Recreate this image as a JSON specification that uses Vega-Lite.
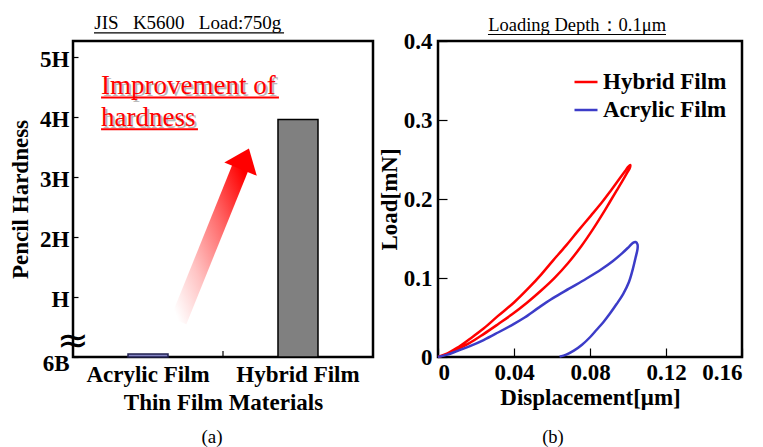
{
  "$schema": "https://vega.github.io/schema/vega-lite/v6.json",
  "background": "white",
  "padding": {"left": 8, "top": 13, "right": 4, "bottom": 0},
  "spacing": 2,
  "resolve": {"scale": {"color": "independent"}, "legend": {"color": "independent"}},
  "config": {
    "view": {"stroke": "black", "strokeWidth": 2.5},
    "font": "Liberation Serif",
    "axis": {"labelFont": "Liberation Serif", "titleFont": "Liberation Serif", "labelColor": "black", "titleColor": "black", "tickColor": "black", "grid": false, "domain": false}
  },
  "hconcat": [
    {
      "width": 300,
      "height": 316,
      "layer": [
        {
          "data": {"values": [
            {"material": "Acrylic Film", "hardness": 0.05},
            {"material": "Hybrid Film", "hardness": 3.96}
          ]},
          "mark": {"type": "bar", "strokeWidth": 1.5},
          "encoding": {
            "x": {"field": "material", "type": "nominal", "sort": null,
              "scale": {"paddingInner": 0.7333, "paddingOuter": 0.3667},
              "axis": {"title": "Thin Film Materials", "labelAngle": 0, "labelFontSize": 23, "labelFontWeight": "bold", "titleFontSize": 23, "titleFontWeight": "bold", "ticks": false, "labelPadding": 6, "titlePadding": 5}},
            "y": {"field": "hardness", "type": "quantitative",
              "scale": {"domain": [0, 5.27], "nice": false},
              "axis": {"values": [0, 1, 2, 3, 4, 5],
                "labelExpr": "datum.value == 0 ? '6B' : datum.value == 1 ? 'H' : datum.value + 'H'",
                "title": "Pencil Hardness", "titleFontSize": 23, "titleFontWeight": "bold",
                "labelFontSize": 23, "labelFontWeight": "bold",
                "tickSize": -5, "tickWidth": 1.2, "labelPadding": 9, "titlePadding": 7,
                "labelOffset": {"condition": {"test": "datum.value == 0", "value": 6}, "value": 2}}},
            "color": {"field": "material", "type": "nominal", "scale": {"domain": ["Acrylic Film", "Hybrid Film"], "range": ["#8484c4", "#808080"]}, "legend": null},
            "stroke": {"field": "material", "type": "nominal", "scale": {"domain": ["Acrylic Film", "Hybrid Film"], "range": ["#202050", "#000000"]}, "legend": null}
          }
        },
        {
          "layer": [
            {
              "data": {"values": [{"ax": 0.703, "ay": 0.6}, {"ax": 1.12, "ay": 3.185}]},
              "mark": {"type": "line", "strokeWidth": 17, "strokeCap": "butt",
                "stroke": {"gradient": "linear", "x1": 0, "y1": 1, "x2": 1, "y2": 0,
                  "stops": [{"offset": 0, "color": "#ffffff"}, {"offset": 0.3, "color": "#ffc4c4"}, {"offset": 0.65, "color": "#ff6a6a"}, {"offset": 1, "color": "#ff0000"}]}},
              "encoding": {
                "x": {"field": "ax", "type": "quantitative", "scale": {"domain": [0, 2]}, "axis": null},
                "y": {"field": "ay", "type": "quantitative", "scale": {"domain": [0, 5.27], "nice": false}}
              }
            },
            {
              "data": {"values": [{"ax": 1.145, "ay": 3.306}]},
              "mark": {"type": "point", "shape": "M-1,0.64L0,-0.64L1,0.64Z", "size": 1225, "angle": 22, "filled": true, "color": "#ff0000", "opacity": 1},
              "encoding": {
                "x": {"field": "ax", "type": "quantitative", "scale": {"domain": [0, 2]}, "axis": null},
                "y": {"field": "ay", "type": "quantitative", "scale": {"domain": [0, 5.27], "nice": false}}
              }
            },
            {
              "data": {"values": [{"t": "Improvement of", "ax": 0.187, "ay": 4.386}, {"t": "hardness", "ax": 0.187, "ay": 3.853}]},
              "mark": {"type": "text", "align": "left", "baseline": "alphabetic", "fontSize": 27, "font": "Liberation Serif", "color": "#a8a8a8", "dx": 2, "dy": 2, "opacity": 0.8},
              "encoding": {
                "x": {"field": "ax", "type": "quantitative", "scale": {"domain": [0, 2]}, "axis": null},
                "y": {"field": "ay", "type": "quantitative", "scale": {"domain": [0, 5.27], "nice": false}},
                "text": {"field": "t"}
              }
            },
            {
              "data": {"values": [{"t": "Improvement of", "ax": 0.187, "ay": 4.386}, {"t": "hardness", "ax": 0.187, "ay": 3.853}]},
              "mark": {"type": "text", "align": "left", "baseline": "alphabetic", "fontSize": 27, "font": "Liberation Serif", "color": "#ff0000"},
              "encoding": {
                "x": {"field": "ax", "type": "quantitative", "scale": {"domain": [0, 2]}, "axis": null},
                "y": {"field": "ay", "type": "quantitative", "scale": {"domain": [0, 5.27], "nice": false}},
                "text": {"field": "t"}
              }
            },
            {
              "data": {"values": [{"ax": 0.187, "ax2": 1.373, "ay": 4.328}, {"ax": 0.187, "ax2": 0.833, "ay": 3.8}]},
              "mark": {"type": "rule", "strokeWidth": 2, "color": "#ff0000"},
              "encoding": {
                "x": {"field": "ax", "type": "quantitative", "scale": {"domain": [0, 2]}, "axis": null},
                "x2": {"field": "ax2"},
                "y": {"field": "ay", "type": "quantitative", "scale": {"domain": [0, 5.27], "nice": false}}
              }
            },
            {
              "data": {"values": [{"t": "JIS\u00a0\u00a0\u00a0K5600\u00a0\u00a0\u00a0Load:750g", "ax": 0.765, "ay": 5.462}, {"t": "(a)", "ax": 0.927, "ay": -1.434}]},
              "mark": {"type": "text", "align": "center", "baseline": "alphabetic", "fontSize": 19, "font": "Liberation Serif", "color": "black"},
              "encoding": {
                "x": {"field": "ax", "type": "quantitative", "scale": {"domain": [0, 2]}, "axis": null},
                "y": {"field": "ay", "type": "quantitative", "scale": {"domain": [0, 5.27], "nice": false}},
                "text": {"field": "t"}
              }
            },
            {
              "data": {"values": [{"ax": 0.14, "ax2": 1.407, "ay": 5.404}]},
              "mark": {"type": "rule", "strokeWidth": 1.2, "color": "black"},
              "encoding": {
                "x": {"field": "ax", "type": "quantitative", "scale": {"domain": [0, 2]}, "axis": null},
                "x2": {"field": "ax2"},
                "y": {"field": "ay", "type": "quantitative", "scale": {"domain": [0, 5.27], "nice": false}}
              }
            },
            {
              "data": {"values": [{"ax": 1, "ay": 0, "ay2": 0.1}]},
              "mark": {"type": "rule", "strokeWidth": 1.2, "color": "black"},
              "encoding": {
                "x": {"field": "ax", "type": "quantitative", "scale": {"domain": [0, 2]}, "axis": null},
                "y": {"field": "ay", "type": "quantitative", "scale": {"domain": [0, 5.27], "nice": false}},
                "y2": {"field": "ay2"}
              }
            },
            {
              "data": {"values": [{"t": "≈", "ax": 0.0, "ay": 0.25}]},
              "mark": {"type": "text", "align": "center", "baseline": "middle", "fontSize": 38, "font": "DejaVu Sans", "color": "black"},
              "encoding": {
                "x": {"field": "ax", "type": "quantitative", "scale": {"domain": [0, 2]}, "axis": null},
                "y": {"field": "ay", "type": "quantitative", "scale": {"domain": [0, 5.27], "nice": false}},
                "text": {"field": "t"}
              }
            }
          ]
        }
      ],
      "resolve": {"scale": {"x": "independent"}}
    },
    {
      "width": 304,
      "height": 316,
      "layer": [
        {
          "data": {"values": [
            {"film": "Hybrid Film", "i": 0, "d": 0, "load": 0},
            {"film": "Hybrid Film", "i": 1, "d": 0.005, "load": 0.0045},
            {"film": "Hybrid Film", "i": 2, "d": 0.010, "load": 0.0115},
            {"film": "Hybrid Film", "i": 3, "d": 0.0165, "load": 0.0225},
            {"film": "Hybrid Film", "i": 4, "d": 0.024, "load": 0.036},
            {"film": "Hybrid Film", "i": 5, "d": 0.0316, "load": 0.052},
            {"film": "Hybrid Film", "i": 6, "d": 0.040, "load": 0.069},
            {"film": "Hybrid Film", "i": 7, "d": 0.048, "load": 0.088},
            {"film": "Hybrid Film", "i": 8, "d": 0.0545, "load": 0.105},
            {"film": "Hybrid Film", "i": 9, "d": 0.0605, "load": 0.122},
            {"film": "Hybrid Film", "i": 10, "d": 0.067, "load": 0.140},
            {"film": "Hybrid Film", "i": 11, "d": 0.0735, "load": 0.159},
            {"film": "Hybrid Film", "i": 12, "d": 0.0805, "load": 0.179},
            {"film": "Hybrid Film", "i": 13, "d": 0.0865, "load": 0.1965},
            {"film": "Hybrid Film", "i": 14, "d": 0.0912, "load": 0.2115},
            {"film": "Hybrid Film", "i": 15, "d": 0.0955, "load": 0.2255},
            {"film": "Hybrid Film", "i": 16, "d": 0.0985, "load": 0.2355},
            {"film": "Hybrid Film", "i": 17, "d": 0.1002, "load": 0.241},
            {"film": "Hybrid Film", "i": 18, "d": 0.1012, "load": 0.243},
            {"film": "Hybrid Film", "i": 19, "d": 0.101, "load": 0.2395},
            {"film": "Hybrid Film", "i": 20, "d": 0.0995, "load": 0.233},
            {"film": "Hybrid Film", "i": 21, "d": 0.097, "load": 0.2225},
            {"film": "Hybrid Film", "i": 22, "d": 0.094, "load": 0.2105},
            {"film": "Hybrid Film", "i": 23, "d": 0.0905, "load": 0.1965},
            {"film": "Hybrid Film", "i": 24, "d": 0.0865, "load": 0.1805},
            {"film": "Hybrid Film", "i": 25, "d": 0.0815, "load": 0.1615},
            {"film": "Hybrid Film", "i": 26, "d": 0.0755, "load": 0.1405},
            {"film": "Hybrid Film", "i": 27, "d": 0.0685, "load": 0.119},
            {"film": "Hybrid Film", "i": 28, "d": 0.0615, "load": 0.1005},
            {"film": "Hybrid Film", "i": 29, "d": 0.054, "load": 0.0835},
            {"film": "Hybrid Film", "i": 30, "d": 0.0465, "load": 0.068},
            {"film": "Hybrid Film", "i": 31, "d": 0.039, "load": 0.054},
            {"film": "Hybrid Film", "i": 32, "d": 0.0316, "load": 0.0415},
            {"film": "Hybrid Film", "i": 33, "d": 0.024, "load": 0.029},
            {"film": "Hybrid Film", "i": 34, "d": 0.0165, "load": 0.0175},
            {"film": "Hybrid Film", "i": 35, "d": 0.009, "load": 0.0085},
            {"film": "Hybrid Film", "i": 36, "d": 0.003, "load": 0.0025},
            {"film": "Hybrid Film", "i": 37, "d": 0, "load": 0},
            {"film": "Acrylic Film", "i": 0, "d": 0, "load": 0},
            {"film": "Acrylic Film", "i": 1, "d": 0.005, "load": 0.003},
            {"film": "Acrylic Film", "i": 2, "d": 0.010, "load": 0.0075},
            {"film": "Acrylic Film", "i": 3, "d": 0.0165, "load": 0.0135},
            {"film": "Acrylic Film", "i": 4, "d": 0.024, "load": 0.0215},
            {"film": "Acrylic Film", "i": 5, "d": 0.0316, "load": 0.031},
            {"film": "Acrylic Film", "i": 6, "d": 0.040, "load": 0.042},
            {"film": "Acrylic Film", "i": 7, "d": 0.0456, "load": 0.05},
            {"film": "Acrylic Film", "i": 8, "d": 0.053, "load": 0.0625},
            {"film": "Acrylic Film", "i": 9, "d": 0.0605, "load": 0.0745},
            {"film": "Acrylic Film", "i": 10, "d": 0.069, "load": 0.0865},
            {"film": "Acrylic Film", "i": 11, "d": 0.078, "load": 0.099},
            {"film": "Acrylic Film", "i": 12, "d": 0.086, "load": 0.111},
            {"film": "Acrylic Film", "i": 13, "d": 0.0921, "load": 0.1215},
            {"film": "Acrylic Film", "i": 14, "d": 0.097, "load": 0.1315},
            {"film": "Acrylic Film", "i": 15, "d": 0.1005, "load": 0.1395},
            {"film": "Acrylic Film", "i": 16, "d": 0.1026, "load": 0.1445},
            {"film": "Acrylic Film", "i": 17, "d": 0.104, "load": 0.1455},
            {"film": "Acrylic Film", "i": 18, "d": 0.105, "load": 0.1425},
            {"film": "Acrylic Film", "i": 19, "d": 0.105, "load": 0.1365},
            {"film": "Acrylic Film", "i": 20, "d": 0.104, "load": 0.126},
            {"film": "Acrylic Film", "i": 21, "d": 0.1025, "load": 0.111},
            {"film": "Acrylic Film", "i": 22, "d": 0.1005, "load": 0.095},
            {"film": "Acrylic Film", "i": 23, "d": 0.0975, "load": 0.08},
            {"film": "Acrylic Film", "i": 24, "d": 0.094, "load": 0.067},
            {"film": "Acrylic Film", "i": 25, "d": 0.0905, "load": 0.055},
            {"film": "Acrylic Film", "i": 26, "d": 0.087, "load": 0.044},
            {"film": "Acrylic Film", "i": 27, "d": 0.0835, "load": 0.0345},
            {"film": "Acrylic Film", "i": 28, "d": 0.08, "load": 0.025},
            {"film": "Acrylic Film", "i": 29, "d": 0.0758, "load": 0.0155},
            {"film": "Acrylic Film", "i": 30, "d": 0.0715, "load": 0.008},
            {"film": "Acrylic Film", "i": 31, "d": 0.0675, "load": 0.003},
            {"film": "Acrylic Film", "i": 32, "d": 0.064, "load": 0.0005}
          ]},
          "mark": {"type": "line", "strokeWidth": 2.5, "interpolate": "catmull-rom"},
          "encoding": {
            "x": {"field": "d", "type": "quantitative",
              "scale": {"domain": [0, 0.16], "nice": false},
              "axis": {"values": [0, 0.04, 0.08, 0.12, 0.16], "format": ".2~f", "title": "Displacement[μm]",
                "labelFontSize": 23, "labelFontWeight": "bold", "titleFontSize": 23, "titleFontWeight": "bold",
                "tickSize": -9, "tickWidth": 1.2, "labelPadding": 13, "titlePadding": 2}},
            "y": {"field": "load", "type": "quantitative",
              "scale": {"domain": [0, 0.4], "nice": false},
              "axis": {"values": [0, 0.1, 0.2, 0.3, 0.4], "format": ".1~f", "title": "Load[mN]",
                "labelFontSize": 23, "labelFontWeight": "bold", "titleFontSize": 23, "titleFontWeight": "bold",
                "tickSize": -9, "tickWidth": 1.2, "labelPadding": 15, "titlePadding": 2}},
            "color": {"field": "film", "type": "nominal",
              "scale": {"domain": ["Hybrid Film", "Acrylic Film"], "range": ["#ff0000", "#3c3cc8"]},
              "legend": {"orient": "none", "legendX": 135, "legendY": 28, "title": null, "padding": 0,
                "labelFont": "Liberation Serif", "labelFontSize": 23, "labelFontWeight": "bold", "labelColor": "black",
                "symbolType": "stroke", "symbolSize": 529, "symbolStrokeWidth": 2.5, "labelOffset": 4, "rowPadding": 3}},
            "order": {"field": "i", "type": "quantitative"}
          }
        },
        {
          "data": {"values": [{"t": "Loading Depth：0.1μm", "ax": 0.0732, "ay": 0.4127}, {"t": "(b)", "ax": 0.0605, "ay": -0.1089}]},
          "mark": {"type": "text", "align": "center", "baseline": "alphabetic", "fontSize": 18.5, "font": "Liberation Serif", "color": "black"},
          "encoding": {
            "x": {"field": "ax", "type": "quantitative"},
            "y": {"field": "ay", "type": "quantitative"},
            "text": {"field": "t"}
          }
        },
        {
          "data": {"values": [{"ax": 0.0263, "ax2": 0.12, "ay": 0.4082}]},
          "mark": {"type": "rule", "strokeWidth": 1.2, "color": "black"},
          "encoding": {
            "x": {"field": "ax", "type": "quantitative"},
            "x2": {"field": "ax2"},
            "y": {"field": "ay", "type": "quantitative"}
          }
        }
      ]
    }
  ]
}
